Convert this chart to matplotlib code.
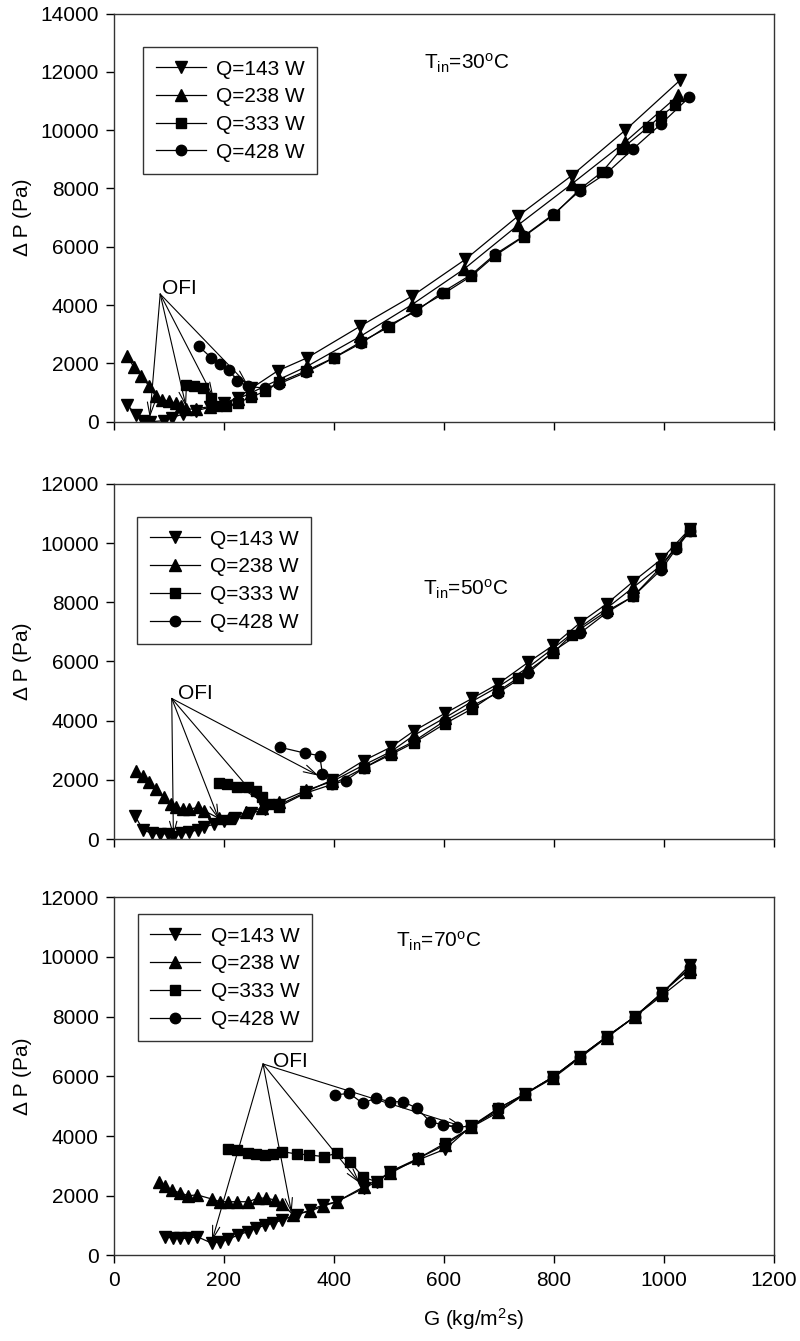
import matplotlib
matplotlib.use("Agg")
import matplotlib.pyplot as plt

plt.rcParams['font.family'] = ['Liberation Sans', 'DejaVu Sans']
plt.rcParams['mathtext.fontset'] = 'custom'
plt.rcParams['mathtext.rm'] = 'Liberation Sans'
plt.rcParams['mathtext.it'] = 'Liberation Sans:italic'
plt.rcParams['font.size'] = 15

# ---------------- data ----------------
labels = ["Q=143 W", "Q=238 W", "Q=333 W", "Q=428 W"]
markers = ["v", "^", "s", "o"]
msizes = [8, 8, 6.5, 7.5]

# T_in = 30 C
g30_143 = [24, 40, 53, 65, 91, 105, 125, 150, 175, 200, 225, 250, 298, 351, 448, 542, 639, 735, 832, 929, 1029]
p30_143 = [585, 240, 35, 0, 35, 140, 260, 380, 500, 640, 820, 1150, 1750, 2190, 3280, 4310, 5570, 7060, 8440, 9990, 11710]
g30_238 = [24, 36, 50, 64, 76, 88, 100, 112, 122, 131, 150, 175, 200, 225, 250, 300, 351, 448, 542, 636, 735, 832, 929, 1026]
p30_238 = [2245, 1880, 1580, 1215, 870, 760, 700, 640, 550, 420, 450, 520, 620, 780, 1000, 1450, 1900, 2930, 4020, 5230, 6750, 8150, 9590, 11190]
g30_333 = [131, 146, 161, 176, 188, 203, 225, 250, 275, 300, 350, 400, 450, 500, 550, 600, 650, 693, 745, 800, 847, 887, 923, 971, 995, 1020]
p30_333 = [1270, 1215, 1160, 815, 525, 525, 650, 850, 1050, 1350, 1750, 2200, 2750, 3250, 3850, 4400, 5000, 5700, 6350, 7100, 7980, 8560, 9360, 10100, 10500, 10850]
g30_428 = [154, 177, 193, 209, 224, 243, 275, 300, 350, 400, 450, 497, 550, 596, 650, 693, 745, 799, 847, 897, 944, 995, 1046]
p30_428 = [2590, 2190, 1995, 1765, 1410, 1215, 1150, 1300, 1700, 2190, 2700, 3280, 3800, 4430, 5050, 5745, 6370, 7120, 7920, 8550, 9360, 10220, 11130]
ofi30_src = (84, 4380)
ofi30_tgt_g = [65, 131, 181, 243]
ofi30_tgt_p = [140, 520, 830, 1270]

# T_in = 50 C
g50_143 = [38, 53, 69, 84, 99, 108, 122, 137, 152, 164, 182, 200, 220, 250, 275, 300, 350, 397, 454, 503, 545, 602, 651, 699, 753, 799, 847, 896, 944, 995, 1047]
p50_143 = [790, 300, 200, 180, 180, 70, 190, 240, 310, 410, 500, 600, 700, 880, 1000, 1150, 1600, 2000, 2650, 3100, 3650, 4250, 4750, 5250, 5970, 6550, 7300, 7950, 8700, 9450, 10480]
g50_238 = [40, 52, 64, 76, 91, 103, 112, 125, 137, 152, 164, 191, 210, 240, 270, 300, 350, 397, 454, 503, 545, 602, 651, 699, 753, 799, 847, 896, 944, 995, 1047]
p50_238 = [2310, 2140, 1915, 1690, 1410, 1180, 1070, 1030, 1010, 1070, 955, 700, 720, 900, 1050, 1250, 1650, 1950, 2500, 2950, 3500, 4100, 4650, 5150, 5800, 6450, 7150, 7800, 8500, 9250, 10450]
g50_333 = [191, 206, 224, 243, 258, 270, 282, 300, 348, 397, 454, 503, 545, 602, 651, 699, 735, 799, 832, 896, 944, 995, 1022, 1047]
p50_333 = [1910, 1860, 1750, 1745, 1640, 1410, 1180, 1100, 1550, 1850, 2400, 2850, 3250, 3900, 4400, 5000, 5450, 6300, 6900, 7700, 8200, 9200, 9860, 10450]
g50_428 = [302, 348, 374, 379, 397, 421, 454, 503, 545, 602, 651, 699, 753, 799, 847, 896, 944, 995, 1022, 1047]
p50_428 = [3100, 2900, 2820, 2200, 1860, 1970, 2400, 2900, 3300, 4000, 4500, 4950, 5600, 6350, 6950, 7650, 8200, 9100, 9800, 10400]
ofi50_src = (105, 4750)
ofi50_tgt_g = [108, 191, 264, 372]
ofi50_tgt_p = [80, 650, 1300, 2140]

# T_in = 70 C
g70_143 = [93, 108, 120, 135, 151, 178, 193, 208, 226, 244, 259, 275, 290, 305, 332, 356, 380, 405, 454, 478, 502, 553, 602, 650, 699, 747, 799, 847, 896, 947, 996, 1047]
p70_143 = [630, 575, 575, 575, 630, 410, 460, 540, 690, 800, 910, 1020, 1080, 1190, 1360, 1520, 1690, 1800, 2250, 2470, 2810, 3200, 3560, 4340, 4850, 5410, 5990, 6660, 7330, 8000, 8780, 9730]
g70_238 = [81, 93, 105, 120, 135, 151, 178, 193, 208, 223, 244, 262, 277, 292, 305, 326, 356, 380, 405, 454, 502, 553, 602, 650, 699, 747, 799, 847, 896, 947, 996, 1047]
p70_238 = [2470, 2330, 2190, 2100, 2000, 2030, 1890, 1800, 1800, 1800, 1800, 1920, 1920, 1860, 1730, 1360, 1480, 1650, 1800, 2300, 2750, 3250, 3700, 4300, 4800, 5400, 5950, 6620, 7300, 8000, 8800, 9600]
g70_333 = [208, 223, 244, 259, 275, 290, 305, 332, 355, 381, 405, 429, 453, 478, 502, 553, 602, 650, 699, 747, 799, 847, 896, 947, 996, 1047]
p70_333 = [3570, 3530, 3440, 3400, 3370, 3400, 3480, 3400, 3370, 3310, 3420, 3140, 2620, 2470, 2810, 3250, 3760, 4300, 4930, 5410, 5990, 6660, 7330, 8000, 8700, 9450]
g70_428 = [402, 428, 452, 476, 502, 526, 551, 575, 599, 623, 650, 699, 747, 799, 847, 896, 947, 996, 1047]
p70_428 = [5380, 5430, 5100, 5270, 5150, 5150, 4930, 4480, 4370, 4290, 4340, 4930, 5410, 5990, 6660, 7330, 8000, 8780, 9650]
ofi70_src = (271, 6415)
ofi70_tgt_g = [178, 323, 447, 635]
ofi70_tgt_p = [480, 1410, 2420, 4310]

panels = [
    dict(g=[g30_143, g30_238, g30_333, g30_428], p=[p30_143, p30_238, p30_333, p30_428],
         src=ofi30_src, tg=ofi30_tgt_g, tp=ofi30_tgt_p, ofi_xy=(88, 4560),
         tin="T$_{\\rm in}$=30$^{\\rm o}$C", tin_xy=(563, 12300), ymax=14000,
         leg=(0.044, 0.918)),
    dict(g=[g50_143, g50_238, g50_333, g50_428], p=[p50_143, p50_238, p50_333, p50_428],
         src=ofi50_src, tg=ofi50_tgt_g, tp=ofi50_tgt_p, ofi_xy=(117, 4930),
         tin="T$_{\\rm in}$=50$^{\\rm o}$C", tin_xy=(561, 8450), ymax=12000,
         leg=(0.035, 0.906)),
    dict(g=[g70_143, g70_238, g70_333, g70_428], p=[p70_143, p70_238, p70_333, p70_428],
         src=ofi70_src, tg=ofi70_tgt_g, tp=ofi70_tgt_p, ofi_xy=(290, 6490),
         tin="T$_{\\rm in}$=70$^{\\rm o}$C", tin_xy=(513, 10510), ymax=12000,
         leg=(0.036, 0.953)),
]

# ---------------- figure ----------------
fig = plt.figure(figsize=(8.0, 13.41), dpi=100)
rects = [
    [0.1425, 0.6855, 0.825, 0.3044],
    [0.1425, 0.3743, 0.825, 0.2649],
    [0.1425, 0.0638, 0.825, 0.2671],
]

for i, (pan, rect) in enumerate(zip(panels, rects)):
    ax = fig.add_axes(rect)
    for g, p, lab, mk, ms in zip(pan['g'], pan['p'], labels, markers, msizes):
        ax.plot(g, p, color='black', lw=0.9, marker=mk, ms=ms, mfc='black', mec='black',
                label=lab)
    ax.set_xlim(0, 1200)
    ax.set_ylim(0, pan['ymax'])
    ax.set_xticks(range(0, 1201, 200))
    ax.set_yticks(range(0, pan['ymax'] + 1, 2000))
    ax.tick_params(direction='out', length=6, width=1, pad=5, labelsize=15,
                   top=False, right=False)
    for s in ax.spines.values():
        s.set_linewidth(1.0)
        s.set_color('#333333')
    if i < 2:
        ax.set_xticklabels([])
    else:
        ax.set_xlabel("G (kg/m$^2$s)", fontsize=15, labelpad=12)
        ax.xaxis.label.set_x(0.545)
    ax.set_ylabel("\u0394 P (Pa)", fontsize=15, labelpad=6)

    leg = ax.legend(loc='upper left', bbox_to_anchor=pan['leg'], borderaxespad=0,
                    fontsize=15, frameon=True, fancybox=False, edgecolor='black',
                    numpoints=1, handlelength=2.4, handletextpad=0.5,
                    labelspacing=0.42, borderpad=0.6)
    leg.get_frame().set_linewidth(1.0)

    ax.text(pan['ofi_xy'][0], pan['ofi_xy'][1], "OFI", fontsize=15, va='center', ha='left')
    for tg, tp in zip(pan['tg'], pan['tp']):
        ax.annotate("", xy=(tg, tp), xytext=pan['src'],
                    arrowprops=dict(arrowstyle='->,head_length=0.8,head_width=0.22',
                                    color='black', lw=0.8, shrinkA=0, shrinkB=0,
                                    mutation_scale=12))
    ax.text(pan['tin_xy'][0], pan['tin_xy'][1], pan['tin'], fontsize=15, va='center', ha='left')

fig.savefig("out.png", dpi=100)
